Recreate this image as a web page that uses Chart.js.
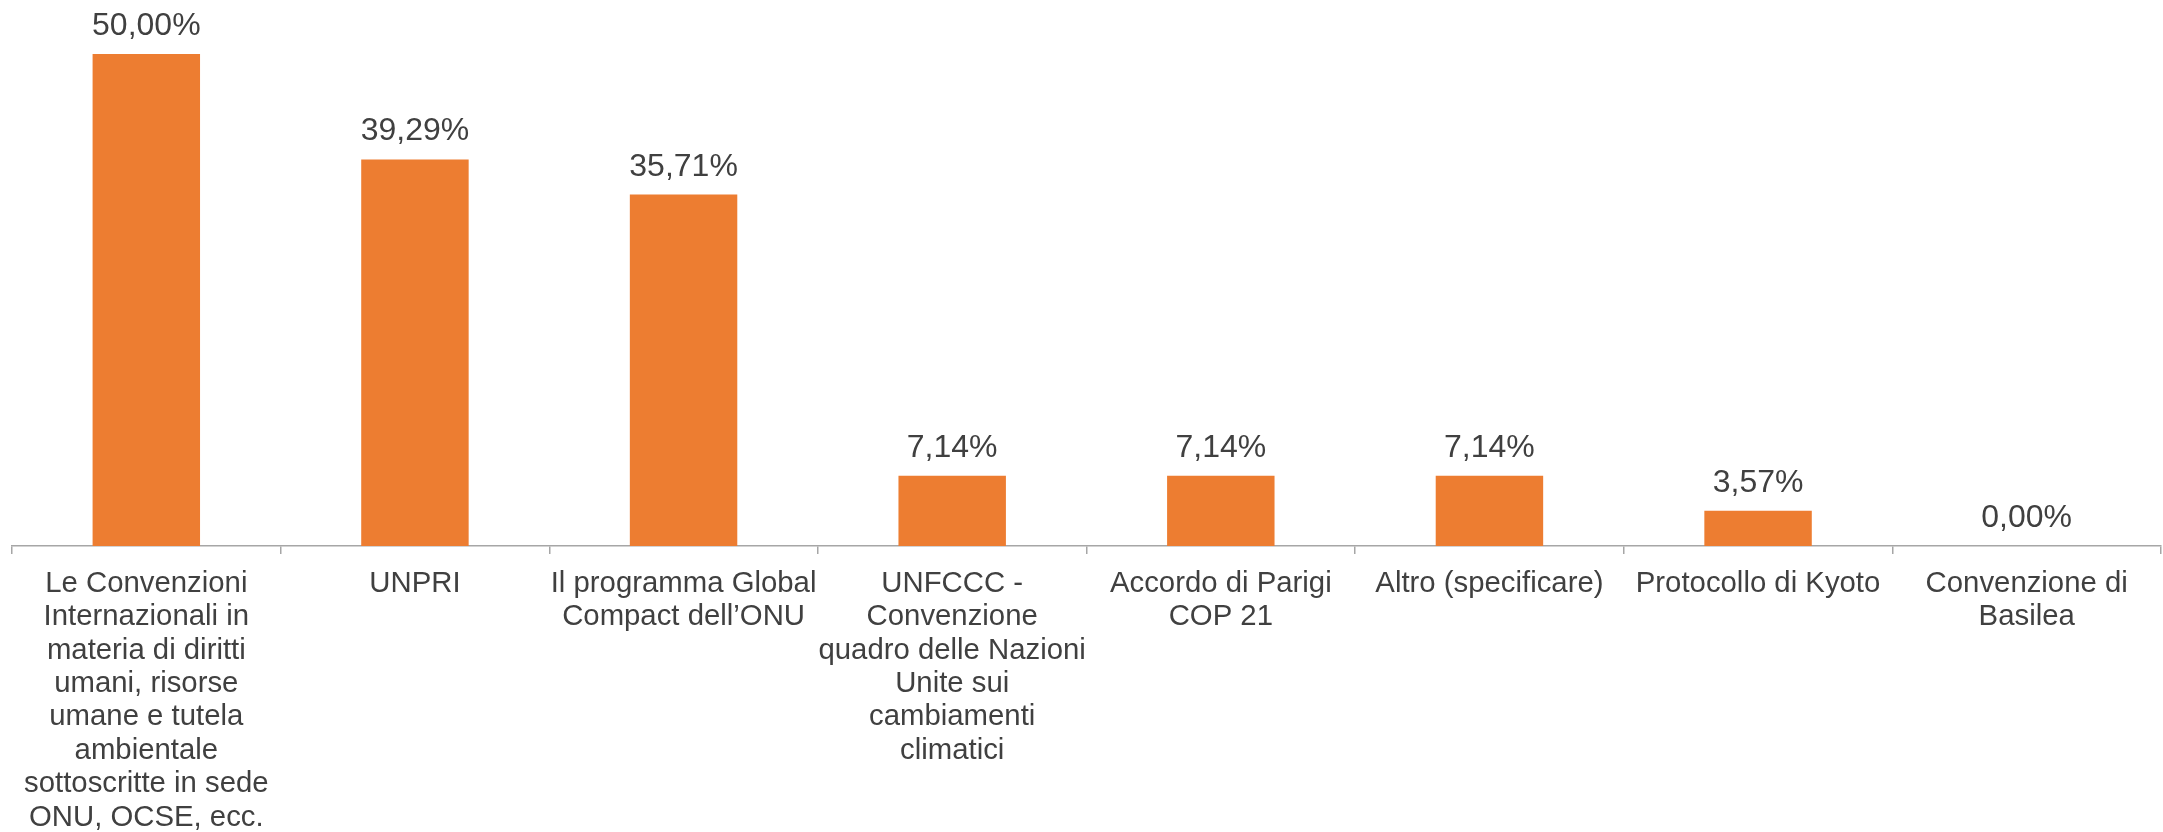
<!DOCTYPE html>
<html>
<head>
<meta charset="utf-8">
<script src="https://cdn.jsdelivr.net/npm/chart.js@4/dist/chart.umd.min.js"></script>
<style>
  html, body { margin: 0; padding: 0; background: #ffffff; }
  #wrap { width: 2163px; height: 832px; position: relative; }
</style>
</head>
<body>
<div id="wrap"><canvas id="c"></canvas></div>
<script>
const categories = [
  ["Le Convenzioni", "Internazionali in", "materia di diritti", "umani, risorse", "umane e tutela", "ambientale", "sottoscritte in sede", "ONU, OCSE, ecc."],
  "UNPRI",
  ["Il programma Global", "Compact dell’ONU"],
  ["UNFCCC -", "Convenzione", "quadro delle Nazioni", "Unite sui", "cambiamenti", "climatici"],
  ["Accordo di Parigi", "COP 21"],
  "Altro (specificare)",
  "Protocollo di Kyoto",
  ["Convenzione di", "Basilea"]
];
const values = [50.00, 39.29, 35.71, 7.14, 7.14, 7.14, 3.57, 0.00];

const FONT = "'Liberation Sans', Arial, sans-serif";
const TEXT = '#404040';

const valueLabels = {
  id: 'valueLabels',
  afterDatasetsDraw(chart) {
    const ctx = chart.ctx;
    const meta = chart.getDatasetMeta(0);
    ctx.save();
    ctx.font = '32px ' + FONT;
    ctx.fillStyle = TEXT;
    ctx.textAlign = 'center';
    ctx.textBaseline = 'alphabetic';
    meta.data.forEach((bar, i) => {
      const v = chart.data.datasets[0].data[i];
      const txt = v.toFixed(2).replace('.', ',') + '%';
      ctx.fillText(txt, bar.x, bar.y - 19);
    });
    ctx.restore();
  }
};

new Chart(document.getElementById('c'), {
  type: 'bar',
  data: {
    labels: categories,
    datasets: [{
      data: values,
      backgroundColor: '#ED7D31',
      borderWidth: 0,
      categoryPercentage: 1,
      barPercentage: 0.4
    }]
  },
  options: {
    responsive: true,
    maintainAspectRatio: false,
    animation: false,
    layout: { padding: { top: 54, left: 12, right: 2, bottom: 0 } },
    plugins: { legend: { display: false }, tooltip: { enabled: false } },
    scales: {
      y: { display: false, min: 0, max: 50 },
      x: {
        afterFit(scale) { scale.height = 286; },
        grid: {
          display: true,
          drawOnChartArea: false,
          drawTicks: true,
          tickLength: 8,
          color: '#A6A6A6',
          lineWidth: 1.5
        },
        border: { display: true, color: '#A6A6A6', width: 1.5 },
        ticks: {
          color: TEXT,
          font: { family: FONT, size: 29.33, lineHeight: 33.4 / 29.33 },
          padding: 13,
          maxRotation: 0,
          minRotation: 0,
          autoSkip: false
        }
      }
    }
  },
  plugins: [valueLabels]
});
</script>
</body>
</html>
